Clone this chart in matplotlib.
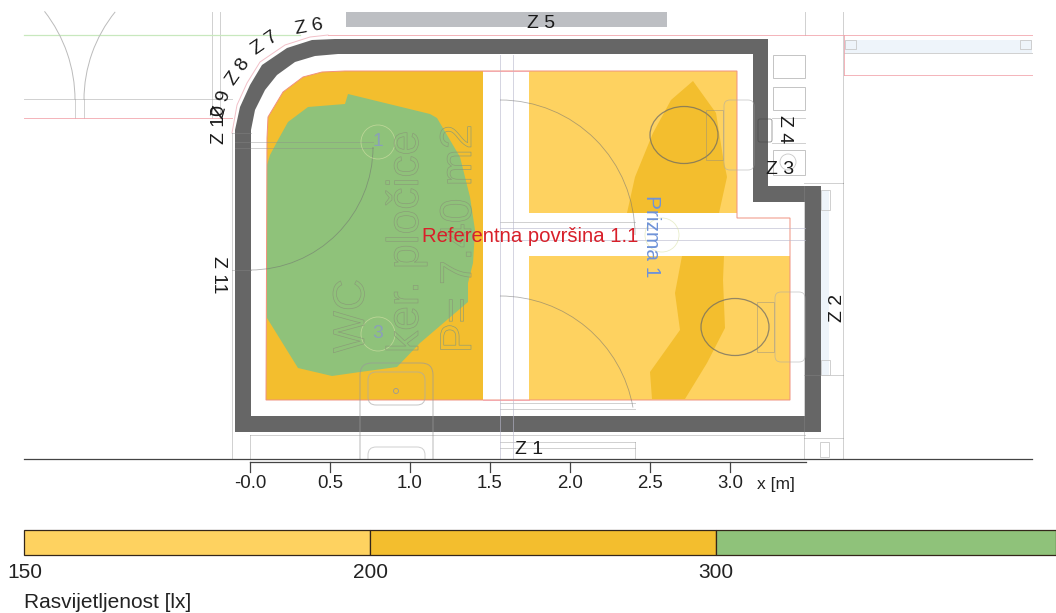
import matplotlib
matplotlib.use("Agg")
import matplotlib.pyplot as plt
import matplotlib.patheffects as pe
from matplotlib.patches import Polygon, Rectangle, Arc, Ellipse, Circle, FancyBboxPatch

plt.rcParams['font.family'] = ['Liberation Sans', 'DejaVu Sans']

wall_outer = [(335, 39), (768, 39), (768, 186), (821, 186), (821, 432), (235, 432), (235, 130),
              (240, 107), (250, 85), (262, 65), (287, 48), (312, 40)]
wall_inner = [(338, 54), (753, 54), (753, 202), (805, 202), (805, 416), (251, 416), (251, 130),
              (255, 110), (265, 90), (277, 75), (295, 62), (315, 56)]
wall_pink = [(328, 35), (310, 37), (285, 45), (260, 62), (247, 83), (237, 105), (232, 133)]
room_left = [(345, 71), (483, 71), (483, 400), (266, 400), (267, 138), (268, 117), (283, 92),
             (303, 77), (322, 72)]
room_right_top = [(529, 71), (737, 71), (737, 213), (529, 213)]
room_right_low = [(529, 256), (790, 256), (790, 400), (529, 400)]
red_outline = [(345, 71), (737, 71), (737, 218), (790, 218), (790, 400), (266, 400), (267, 138),
               (268, 117), (283, 92), (303, 77), (322, 72)]
green_zone = [(348, 94), (430, 114), (437, 118), (460, 157), (470, 197), (475, 230), (473, 263),
              (468, 283), (468, 302), (420, 343), (397, 367), (360, 372), (332, 376), (298, 368),
              (267, 318), (267, 165), (270, 155), (278, 140), (288, 122), (308, 107), (345, 104)]
dark_top = [(693, 81), (716, 113), (723, 157), (727, 177), (719, 213), (627, 213), (635, 177),
            (653, 133), (671, 100)]
dark_low = [(682, 256), (724, 256), (723, 280), (725, 328), (707, 363), (685, 399), (652, 399),
            (650, 372), (680, 330), (675, 293)]

# thin background lines of the floor plan: (x0, y0, x1, y1)
grey_lines = [
    (24, 99, 232, 99), (212, 12, 212, 118), (220, 12, 220, 118), (232, 133, 232, 459),
    (232, 133, 251, 133), (232, 270, 251, 270),
    (235, 142, 373, 142), (235, 148, 373, 148), (805, 12, 805, 35), (843, 12, 843, 183),
    (804, 183, 843, 183), (804, 186, 804, 459), (843, 183, 843, 459), (804, 375, 843, 375),
    (804, 438, 843, 438), (500, 222, 635, 222),
    (500, 403, 635, 403), (500, 409, 635, 409),
    (250, 435, 805, 435), (250, 435, 250, 459), (500, 442, 635, 442), (500, 448, 635, 448),
    (635, 442, 635, 459), (844, 53, 1032, 53), (75, 99, 75, 118), (84, 99, 84, 118),
    (772, 118, 805, 118), (772, 143, 805, 143),
]
lilac_lines = [(500, 55, 500, 459), (513, 55, 513, 459), (500, 228, 805, 228), (500, 240, 805, 240)]
red_lines = [(24, 118, 232, 118), (328, 35, 1032, 35), (844, 75, 1032, 75), (844, 35, 844, 75),
             (483, 400, 529, 400), (483, 71, 529, 71)]
green_lines = [(24, 35, 300, 35)]
side_boxes = [(773, 55, 32, 23), (773, 87, 32, 23), (773, 150, 32, 25)]
hatch_boxes = [(821, 190, 9, 20), (821, 360, 9, 15), (820, 442, 9, 15), (845, 40, 11, 9), (1020, 40, 11, 9)]

bar_edges = [24, 370, 716, 1056]
bar_colors = ['#FED260', '#F3BE2E', '#8FC27A']
bar_labels = ['150', '200', '300']
bar_label_x = [25, 370, 716]

tick_values = [0.0, 0.5, 1.0, 1.5, 2.0, 2.5, 3.0]
tick_labels = ['-0.0', '0.5', '1.0', '1.5', '2.0', '2.5', '3.0']
px_origin = 250
px_per_m = 160

# label, x, y, rotation
zone_labels = [('Z 1', 529, 449, 0), ('Z 2', 838, 308, 90), ('Z 3', 780, 170, 0), ('Z 4', 784, 129, -90),
               ('Z 5', 541, 23, 0), ('Z 6', 309, 27, 10), ('Z 7', 265, 43, 35), ('Z 8', 238, 72, 55),
               ('Z 9', 222, 104, 75), ('Z 10', 220, 125, 90), ('Z 11', 218, 275, -90)]

GREY = '#8a8a8a'

fig = plt.figure(figsize=(10.56, 6.13), dpi=100)
ax = fig.add_axes([0, 0, 1, 1])
ax.set_xlim(0, 1056)
ax.set_ylim(613, 0)
ax.axis('off')


def seg(lines, color, lw=0.7, alpha=0.6):
    for x0, y0, x1, y1 in lines:
        ax.plot([x0, x1], [y0, y1], color=color, lw=lw, alpha=alpha, zorder=4)


# window bars and strips behind the walls
ax.add_patch(Rectangle((346, 12), 321, 15, fc='#BDBFC3', ec='none', zorder=1))
ax.add_patch(Rectangle((844, 40), 188, 13, fc='#EEF4FA', ec='none', zorder=1))
ax.add_patch(Rectangle((821, 190), 8, 185, fc='#EEF4FA', ec='none', zorder=1))

# walls
ax.add_patch(Polygon(wall_outer, closed=True, fc='#666666', ec='none', zorder=2))
ax.add_patch(Polygon(wall_inner, closed=True, fc='white', ec='none', zorder=2))
ax.plot(*zip(*wall_pink), color='#F2C0C8', lw=0.7, zorder=2)

# illuminance zones
for poly, col in [(room_left, bar_colors[1]), (room_right_top, bar_colors[0]), (room_right_low, bar_colors[0]),
                  (green_zone, bar_colors[2]), (dark_top, bar_colors[1]), (dark_low, bar_colors[1])]:
    ax.add_patch(Polygon(poly, closed=True, fc=col, ec='none', zorder=3))
ax.add_patch(Polygon(red_outline, closed=True, fc='none', ec='#F0907E', lw=0.7, zorder=4))

seg(grey_lines, GREY, alpha=0.4)
seg(lilac_lines, '#B8B8CC', alpha=0.6)
seg(red_lines, '#F2A0A8', lw=0.7, alpha=0.8)
seg(green_lines, '#C8E8BE', lw=0.9, alpha=1)

# door swings
for c, w, t0, t1 in [((250, 147), 246, 0, 90), ((500, 235), 270, 270, 360), ((500, 431), 270, 270, 350)]:
    ax.add_patch(Arc(c, w, w, theta1=t0, theta2=t1, color='#707070', lw=0.6, alpha=0.55, zorder=4))

# doorway curves top left of the picture
ax.add_patch(Arc((-69, 100), 288, 288, theta1=322, theta2=360, color='#bbbbbb', lw=0.7, zorder=4))
ax.add_patch(Arc((224, 100), 280, 280, theta1=180, theta2=219, color='#bbbbbb', lw=0.7, zorder=4))

# toilets and sink
for cx, cy in [(684, 135), (735, 327)]:
    ax.add_patch(Ellipse((cx, cy), 68, 57, fc='none', ec='#666666', lw=0.9, alpha=0.7, zorder=4))
    ax.add_patch(Rectangle((cx + 22, cy - 25), 17, 50, fc='none', ec='#888888', lw=0.6, alpha=0.5, zorder=4))
    ax.add_patch(FancyBboxPatch((cx + 46, cy - 29), 18, 58, boxstyle='round,pad=6', fc='none', ec='#aaaaaa',
                                lw=0.6, alpha=0.6, zorder=4))

plan_clip = Rectangle((0, 0), 1056, 459, transform=ax.transData)
sink_parts = [((372, 375), 49, 100, 12, '#999999'), ((376, 380), 41, 17, 8, '#aaaaaa'),
              ((376, 455), 41, 30, 8, '#bbbbbb')]
for xy, w, h, pad, col in sink_parts:
    p = FancyBboxPatch(xy, w, h, boxstyle=f'round,pad={pad}', fc='none', ec=col, lw=0.7, alpha=0.7, zorder=4)
    ax.add_patch(p)
    p.set_clip_path(plan_clip)
ax.add_patch(Circle((396, 391), 2.5, fc='none', ec='#999999', lw=0.6, zorder=4))
for x, y, w, h in side_boxes:
    ax.add_patch(Rectangle((x, y), w, h, fc='none', ec='#c4c4c4', lw=0.7, zorder=4))
for x, y, w, h in hatch_boxes:
    ax.add_patch(Rectangle((x, y), w, h, fc='none', ec='#c8c8c8', lw=0.6, zorder=4))
ax.add_patch(Circle((788, 162), 8, fc='none', ec='#c8c8c8', lw=0.6, zorder=4))
ax.add_patch(FancyBboxPatch((760, 121), 10, 19, boxstyle='round,pad=2', fc='none', ec='#444444', lw=0.6,
                            alpha=0.6, zorder=4))

# luminaires
for c in [(378, 142), (378, 334), (662, 235)]:
    ax.add_patch(Circle(c, 17, fc='none', ec='#D9E2A8', lw=0.6, alpha=0.6, zorder=4))
ax.text(378, 142, '1', color='#8AA0B8', fontsize=14, ha='center', va='center', zorder=5)
ax.text(378, 334, '3', color='#8AA0B8', fontsize=14, ha='center', va='center', zorder=5)

# hollow room label
outline = [pe.Stroke(linewidth=0.45, foreground='#8A9A78')]
for txt, x in [('WC', 364), ('ker. pločice', 418), ('P= 7.40 m2', 471)]:
    ax.text(x, 353, txt, rotation=90, rotation_mode='anchor', ha='left', va='baseline', fontsize=32,
            color='none', path_effects=outline, zorder=5)

for txt, x, y, rot in zone_labels:
    ax.text(x, y, txt, rotation=rot, ha='center', va='center', fontsize=14, color='#1a1a1a', zorder=6)
ax.text(422, 236, 'Referentna površina 1.1', color='#D8202A', fontsize=14.6, ha='left', va='center', zorder=6)
ax.text(652, 236, 'Prizma 1', color='#6F93D8', fontsize=15, rotation=-90, ha='center', va='center', zorder=6)

# x axis of the plan
ax.plot([24, 1032], [459, 459], color='#444444', lw=0.9, zorder=6)
ax.plot([250, 806], [462, 462], color='#444444', lw=0.9, zorder=6)
for v, lab in zip(tick_values, tick_labels):
    px = px_origin + v * px_per_m
    ax.plot([px, px], [462, 472], color='#444444', lw=0.9, zorder=6)
    ax.text(px, 483, lab, ha='center', va='center', fontsize=13.4, color='#222222')
ax.text(776, 484, 'x [m]', ha='center', va='center', fontsize=12.5, color='#222222')

# legend bar
for i, col in enumerate(bar_colors):
    ax.add_patch(Rectangle((bar_edges[i], 530), bar_edges[i + 1] - bar_edges[i], 25, fc=col, ec='#33261a', lw=0.9,
                           zorder=2, clip_on=True))
for lab, x in zip(bar_labels, bar_label_x):
    ax.text(x, 572, lab, ha='center', va='center', fontsize=15, color='#222222')
ax.text(24, 603, 'Rasvijetljenost [lx]', ha='left', va='center', fontsize=15, color='#222222')

fig.savefig('out.png', dpi=100)
